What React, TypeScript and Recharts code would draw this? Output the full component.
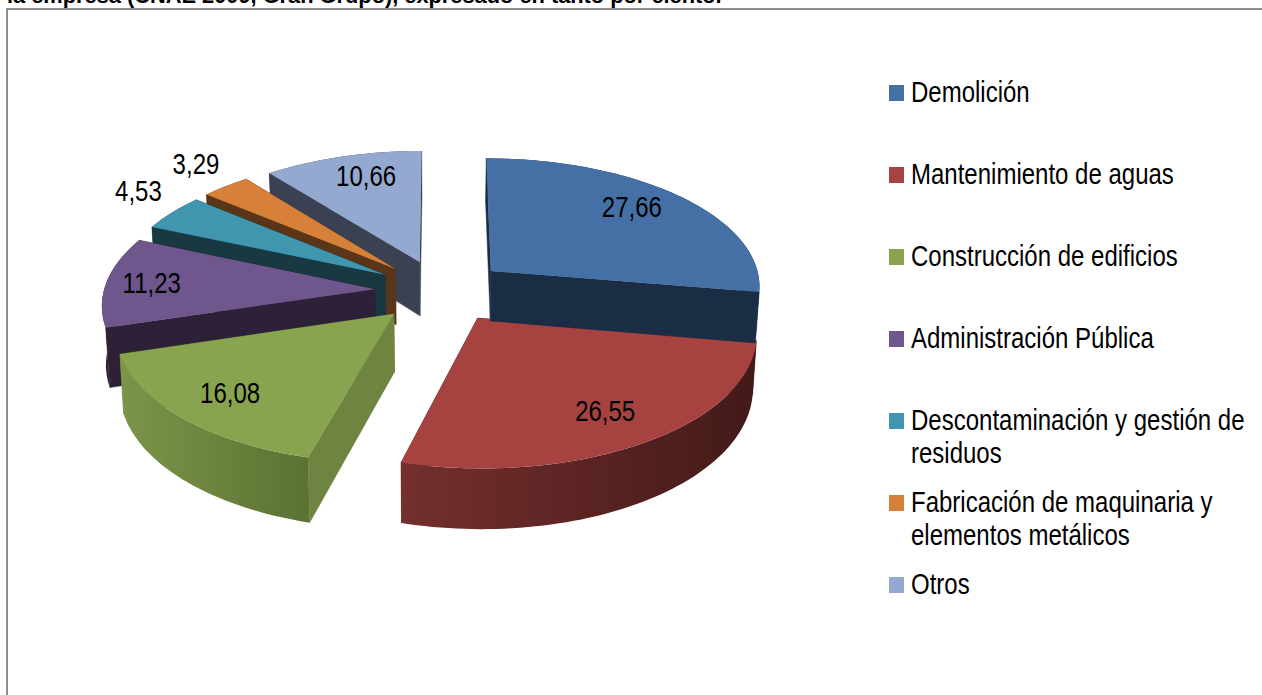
import { PieChart, Pie, Legend } from 'recharts'

const categories = [
  'Demolición',
  'Mantenimiento de aguas',
  'Construcción de edificios',
  'Administración Pública',
  'Descontaminación y gestión de residuos',
  'Fabricación de maquinaria y elementos metálicos',
  'Otros',
]
const values = [27.66, 26.55, 16.08, 11.23, 4.53, 3.29, 10.66]

const topColors = ['#4570a6', '#a64341', '#89a44e', '#6f578e', '#4096ae', '#d6803a', '#93a9cf']
const cutColors = ['#1b2d45', '#451b1a', '#6e8440', '#2c2137', '#183842', '#5a3518', '#3a4153']
const rimColors = [
  ['#1b2d45', '#1b2d45'],
  ['#742f2e', '#431a18'],
  ['#7d9549', '#5a7232'],
  ['#2c2137', '#2c2137'],
  ['#183842', '#183842'],
  ['#5a3518', '#5a3518'],
  ['#3a4153', '#3a4153'],
]
// how far from the slice tip each value label sits, 1 = on the rim
const labelReachX = [0.745, 0.778, 0.787, 0.831, 1.183, 1.2, 0.683]
const labelReachY = [0.841, 0.767, 0.776, 0.82, 1.37, 1.3, 0.8]

// Excel style 3D look: flat disc seen from above with a little perspective
const TILT = 0.474
const PERSPECTIVE = 0.105
const EXPLODE = 0.245
// the picture's text is Arial squeezed sideways
const FONT = '"Liberation Sans", Arial, sans-serif'
const FONT_SIZE = 29
const SQUEEZE = 24 / 29

const rad = (deg: number) => (deg * Math.PI) / 180

function project(cx: number, cy: number, r: number, x: number, y: number) {
  const w = 1 + PERSPECTIVE * y
  return [cx + (r * x) / w, cy - (r * TILT * y) / w]
}

function toPath(points: number[][]) {
  return points.map((p, i) => `${i ? 'L' : 'M'}${p[0].toFixed(2)},${p[1].toFixed(2)}`).join('') + 'Z'
}

function Slice3D(props: any) {
  const { cx, cy, outerRadius: r, startAngle, endAngle, midAngle } = props
  const row = props.payload?.payload ?? props.payload ?? props
  const ox = EXPLODE * Math.cos(rad(midAngle))
  const oy = EXPLODE * Math.sin(rad(midAngle))
  const steps = Math.max(4, Math.ceil(Math.abs(endAngle - startAngle) / 1.5))

  const rim: number[][] = []
  for (let i = 0; i <= steps; i++) {
    const a = rad(startAngle + ((endAngle - startAngle) * i) / steps)
    rim.push(project(cx, cy, r, ox + Math.cos(a), oy + Math.sin(a)))
  }
  const tip = project(cx, cy, r, ox, oy)
  const down = (p: number[]) => {
    const depth = 54 + 0.05 * (p[1] - cy) - 4 * Math.sin(rad(90 - midAngle))
    return [p[0] - (p[0] - cx) * 0.012, p[1] + depth]
  }
  const last = rim[rim.length - 1]
  const gradId = `rim-${row.key}`

  return (
    <g>
      <defs>
        <linearGradient id={gradId} x1="0" y1="0" x2="1" y2="0">
          <stop offset="0%" stopColor={row.rim[0]} />
          <stop offset="100%" stopColor={row.rim[1]} />
        </linearGradient>
      </defs>
      <path d={toPath([tip, rim[0], down(rim[0]), down(tip)])} fill={row.cut} stroke={row.cut} strokeWidth={0.5} />
      <path d={toPath([tip, last, down(last), down(tip)])} fill={row.cut} stroke={row.cut} strokeWidth={0.5} />
      <path d={toPath([...rim, ...rim.map(down).reverse()])} fill={`url(#${gradId})`} />
      <path d={toPath([tip, ...rim])} fill={row.fill} />
    </g>
  )
}

function ValueLabel(props: any) {
  const { cx, cy, outerRadius: r, midAngle, value } = props
  const row = props.payload?.payload ?? props.payload ?? props
  const ox = EXPLODE * Math.cos(rad(midAngle))
  const oy = EXPLODE * Math.sin(rad(midAngle))
  const [x, y] = project(
    cx,
    cy,
    r,
    ox + labelReachX[row.key] * Math.cos(rad(midAngle)),
    oy + labelReachY[row.key] * Math.sin(rad(midAngle))
  )
  return (
    <text
      transform={`translate(${x} ${y}) scale(${SQUEEZE} 1)`}
      textAnchor="middle"
      dominantBaseline="central"
      fontSize={FONT_SIZE}
      fill="#000"
      fontFamily={FONT}
    >
      {value.toFixed(2).replace('.', ',')}
    </text>
  )
}

function LegendList({ payload }: any) {
  return (
    <div style={{ width: 373 }}>
      {[...(payload ?? [])].reverse().map((item: any) => (
        <div key={item.value} style={{ height: 82, position: 'relative', paddingLeft: 22 }}>
          <span
            style={{ position: 'absolute', left: 0, top: 9, width: 15, height: 16, background: item.color }}
          />
          <div
            style={{
              width: 408,
              fontSize: FONT_SIZE,
              lineHeight: '33px',
              color: '#000',
              fontFamily: FONT,
              transform: `scaleX(${SQUEEZE})`,
              transformOrigin: 'left top',
            }}
          >
            {item.value}
          </div>
        </div>
      ))}
    </div>
  )
}

// drawn back to front, so the table runs the other way round the pie
const rows = categories
  .map((name, i) => ({ key: i, name, value: values[i], fill: topColors[i], cut: cutColors[i], rim: rimColors[i] }))
  .reverse()

export default function App() {
  return (
    <div style={{ position: 'absolute', left: 0, top: 0, width: 1262, height: 695, overflow: 'hidden', background: '#fff' }}>
      <div
        style={{
          position: 'absolute',
          left: 7,
          top: -16,
          whiteSpace: 'nowrap',
          fontFamily: 'Liberation Sans',
          fontWeight: 'bold',
          fontSize: 21.8,
          lineHeight: '24px',
        }}
      >
        la empresa (CNAE 2009, Gran Grupo), expresado en tanto por ciento.
      </div>
      <div
        style={{
          position: 'absolute',
          left: 6,
          top: 8,
          width: 1300,
          height: 720,
          border: '2px solid #8f8f8f',
        }}
      />
      <div style={{ position: 'absolute', left: 0, top: 0 }}>
        <PieChart width={1262} height={695} margin={{ top: 0, right: 0, bottom: 0, left: 0 }}>
          <Pie
            data={rows}
            dataKey="value"
            nameKey="name"
            cx={441}
            cy={291}
            outerRadius={271}
            startAngle={90}
            endAngle={450}
            stroke="none"
            shape={Slice3D}
            label={ValueLabel}
            labelLine={false}
            isAnimationActive={false}
          />
          <Legend
            layout="vertical"
            align="right"
            verticalAlign="top"
            itemSorter={null}
            content={LegendList}
            wrapperStyle={{ left: 889, top: 76, width: 373 }}
          />
        </PieChart>
      </div>
    </div>
  )
}
